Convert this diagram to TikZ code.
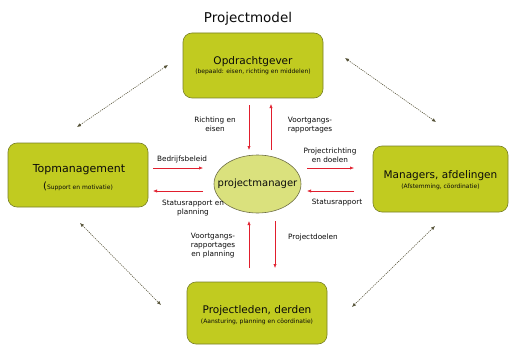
\documentclass[tikz,border=0pt]{standalone}
\usepackage{fontspec}
\setmainfont{DejaVu Sans}
\usetikzlibrary{arrows.meta,shapes.geometric}
\definecolor{boxfill}{RGB}{193,203,32}
\definecolor{boxdraw}{RGB}{120,128,40}
\definecolor{ellfill}{RGB}{218,225,125}
\definecolor{elldraw}{RGB}{110,110,70}
\definecolor{redarr}{RGB}{225,30,45}
\definecolor{dotarr}{RGB}{85,82,55}
\definecolor{txt}{RGB}{10,10,10}
\tikzset{
  mainbox/.style={draw=boxdraw, fill=boxfill, rounded corners=9pt, line width=0.6pt, inner sep=0pt},
  boxtitle/.style={font=\fontsize{10.5}{12}\selectfont, text=txt, inner sep=0pt},
  boxsub/.style={font=\fontsize{6}{7}\selectfont, text=txt, inner sep=0pt},
  lbl/.style={font=\fontsize{7.3}{9}\selectfont, text=txt, align=center, inner sep=0pt},
  redarrow/.style={draw=redarr, line width=0.6pt, -{Latex[length=4pt,width=3.2pt]}},
  dotarrow/.style={draw=dotarr, line width=0.55pt, dash pattern=on 1.2pt off 1pt, {Latex[length=4pt,width=3.4pt]}-{Latex[length=4pt,width=3.4pt]}},
}
\begin{document}
\begin{tikzpicture}[x=1pt,y=-1pt]
\useasboundingbox (0,0) rectangle (509,345);
\fill[white] (0,0) rectangle (509,345);

\node[font=\fontsize{13.5}{15}\selectfont, text=txt, inner sep=0pt] (title) at (248,19) {Projectmodel};

% boxes
\node[mainbox, minimum width=140pt, minimum height=65pt] (top) at (253,65.5) {};
\node[boxtitle] (toptitle) at (253,62) {Opdrachtgever};
\node[boxsub] (topsub) at (253,72) {(bepaald: eisen, richting en middelen)};

\node[mainbox, minimum width=140pt, minimum height=64pt] (left) at (78,175) {};
\node[boxtitle, font=\fontsize{11}{12}\selectfont] (lefttitle) at (79,170) {Topmanagement};
\node[boxsub, anchor=base] (leftsub) at (78,189) {{\fontsize{10}{12}\selectfont(}Support en motivatie)};

\node[mainbox, minimum width=135pt, minimum height=66pt] (right) at (440.5,179) {};
\node[boxtitle] (righttitle) at (440.5,176) {Managers, afdelingen};
\node[boxsub] (rightsub) at (440.5,187) {(Afstemming, cöordinatie)};

\node[mainbox, minimum width=140pt, minimum height=62pt] (bottom) at (257,313) {};
\node[boxtitle] (bottomtitle) at (257,311) {Projectleden, derden};
\node[boxsub] (bottomsub) at (257,322) {(Aansturing, planning en cöordinatie)};

% ellipse
\node[draw=elldraw, fill=ellfill, ellipse, minimum width=87pt, minimum height=58pt, line width=0.6pt, inner sep=0pt] (pm) at (257.5,184) {};
\node[font=\fontsize{10}{12}\selectfont, text=txt, inner sep=0pt] (pmtext) at (257.5,184) {projectmanager};

% red arrow endpoints
\coordinate (a1s) at (249,105); \coordinate (a1e) at (249,150);
\coordinate (a2s) at (271,150); \coordinate (a2e) at (271,104);
\coordinate (a3s) at (153,168); \coordinate (a3e) at (203,168);
\coordinate (a4s) at (203,191); \coordinate (a4e) at (153,191);
\coordinate (a5s) at (307,168); \coordinate (a5e) at (354,168);
\coordinate (a6s) at (354,191); \coordinate (a6e) at (307,191);
\coordinate (a7s) at (249,268); \coordinate (a7e) at (249,221);
\coordinate (a8s) at (275,221); \coordinate (a8e) at (275,268);
\draw[redarrow] (a1s) -- (a1e);
\draw[redarrow] (a2s) -- (a2e);
\draw[redarrow] (a3s) -- (a3e);
\draw[redarrow] (a4s) -- (a4e);
\draw[redarrow] (a5s) -- (a5e);
\draw[redarrow] (a6s) -- (a6e);
\draw[redarrow] (a7s) -- (a7e);
\draw[redarrow] (a8s) -- (a8e);

% labels
\node[lbl] (l1) at (215,124) {Richting en\\eisen};
\node[lbl] (l2) at (310,125) {Voortgangs-\\rapportages};
\node[lbl] (l3) at (182,159) {Bedrijfsbeleid};
\node[lbl] (l4) at (193,208) {Statusrapport en\\planning};
\node[lbl] (l5) at (330,155) {Projectrichting\\en doelen};
\node[lbl] (l6) at (337,203) {Statusrapport};
\node[lbl] (l7) at (213,246) {Voortgangs-\\rapportages\\en planning};
\node[lbl] (l8) at (313,237) {Projectdoelen};

% dotted diagonal arrows
\coordinate (d1a) at (77,127); \coordinate (d1b) at (168,65);
\coordinate (d2a) at (345,58); \coordinate (d2b) at (436,122);
\coordinate (d3a) at (80,223); \coordinate (d3b) at (161,305);
\coordinate (d4a) at (435,226); \coordinate (d4b) at (352,307);
\draw[dotarrow] (d1a) -- (d1b);
\draw[dotarrow] (d2a) -- (d2b);
\draw[dotarrow] (d3a) -- (d3b);
\draw[dotarrow] (d4a) -- (d4b);
\end{tikzpicture}
\end{document}
